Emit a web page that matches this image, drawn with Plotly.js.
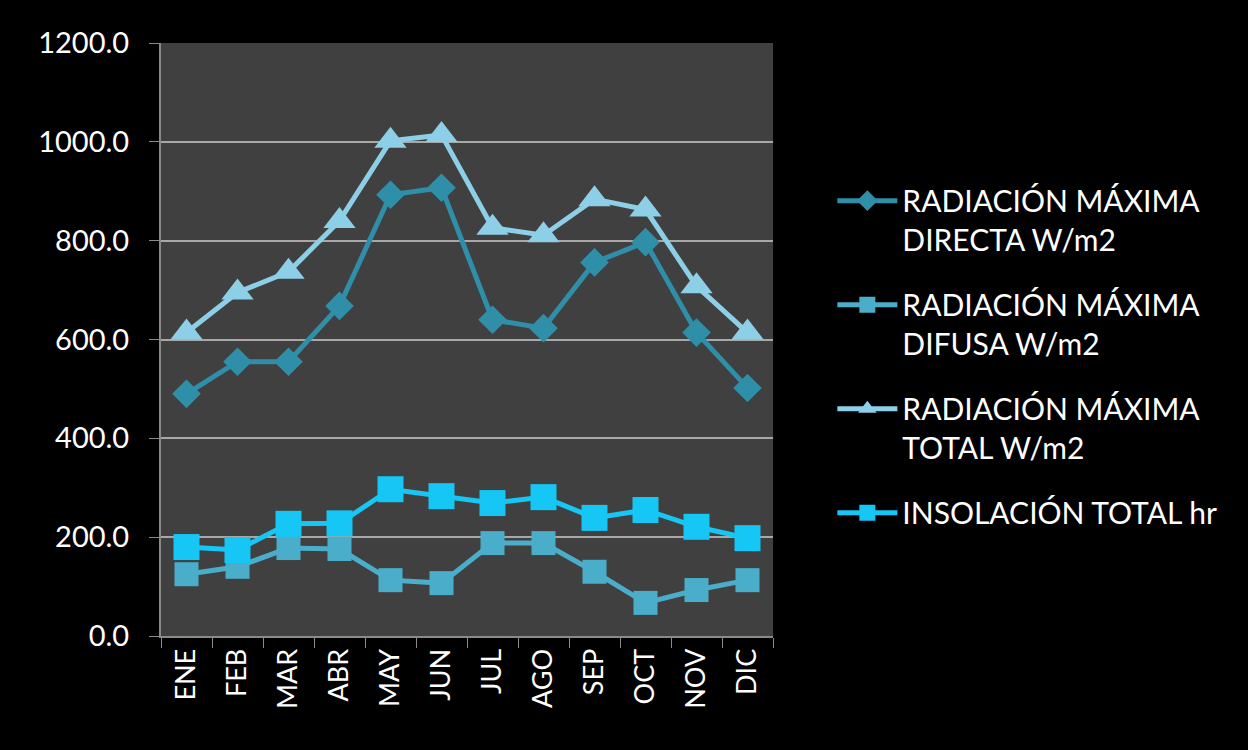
<!DOCTYPE html>
<html>
<head>
<meta charset="utf-8">
<script src="https://cdn.plot.ly/plotly-3.0.1.min.js"></script>
<style>html,body{margin:0;padding:0;background:#000;}#chart{width:1248px;height:750px;}</style>
</head>
<body>
<div id="chart"></div>
<script>
const months = ["ENE","FEB","MAR","ABR","MAY","JUN","JUL","AGO","SEP","OCT","NOV","DIC"];
const directa = [490, 555, 555, 668, 893, 907, 640, 623, 756, 797, 614, 502];
const difusa = [125, 140, 178, 176, 113, 107, 188, 188, 130, 67, 93, 113];
const total = [614, 695, 737, 840, 1002, 1014, 826, 811, 884, 863, 708, 614];
const insolacion = [180, 174, 227, 228, 297, 283, 269, 281, 239, 255, 221, 198];
const names = [
  "RADIACIÓN MÁXIMA<br>DIRECTA W/m2",
  "RADIACIÓN MÁXIMA<br>DIFUSA W/m2",
  "RADIACIÓN MÁXIMA<br>TOTAL W/m2",
  "INSOLACIÓN TOTAL hr"
];
const yTicks = [0, 200, 400, 600, 800, 1000, 1200];

function tr(y, name, color, symbol, size, grp) {
  return {
    x: months, y: y, name: name, type: "scatter", mode: "lines+markers",
    legendgroup: grp,
    line: {color: color, width: 5},
    marker: {symbol: symbol, size: size, color: color}
  };
}
const data = [
  tr(directa, names[0], "#2f8ea8", "diamond", 22, "a"),
  tr(difusa, names[1], "#4aaecb", "square", 24, "b"),
  tr(total, names[2], "#8ccfe6", "triangle-up", 28, "c"),
  tr(insolacion, names[3], "#16c6f4", "square", 26, "d")
];
const layout = {
  width: 1248, height: 750,
  paper_bgcolor: "#000000", plot_bgcolor: "#404040",
  margin: {l: 161, r: 475, t: 43, b: 114},
  font: {family: "Lato, 'Open Sans', sans-serif", color: "#ffffff", size: 22},
  showlegend: true,
  legend: {
    x: 1.097, xanchor: "left", y: 0.778, yanchor: "top",
    font: {size: 30, color: "#ffffff"},
    bgcolor: "rgba(0,0,0,0)", traceorder: "grouped", tracegroupgap: 23,
    valign: "top", itemwidth: 60
  },
  xaxis: {
    type: "category", range: [-0.5, 11.5], tickangle: -90, tickson: "boundaries",
    ticks: "outside", ticklen: 10, tickcolor: "#8a8a8a",
    showline: true, linecolor: "#8a8a8a", linewidth: 2,
    showgrid: false, zeroline: false,
    tickfont: {size: 27, color: "#ffffff"}
  },
  yaxis: {
    range: [0, 1200], tickvals: yTicks, ticktext: yTicks.map(v => v.toFixed(1)),
    ticks: "outside", ticklen: 10, tickcolor: "#8a8a8a",
    showline: true, linecolor: "#8a8a8a", linewidth: 2,
    showgrid: true, gridcolor: "#a8a8a8", gridwidth: 1.5,
    zeroline: false, ticklabelstandoff: 14,
    tickfont: {size: 29, color: "#ffffff"}
  }
};
Plotly.newPlot("chart", data, layout, {displayModeBar: false});
</script>
</body>
</html>
